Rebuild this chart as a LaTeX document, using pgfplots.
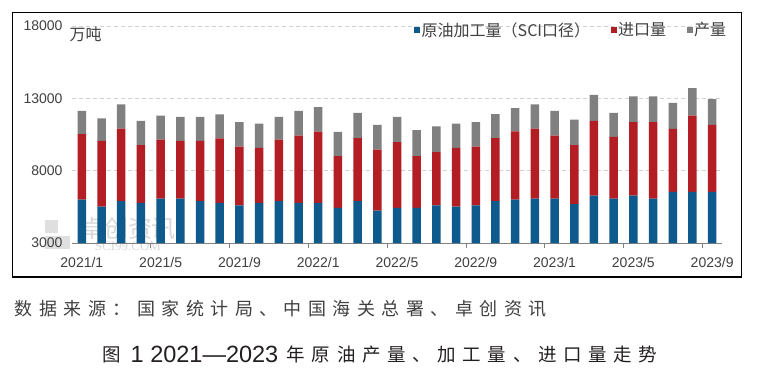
\documentclass[border=0pt]{standalone}
\usepackage{fontspec}
\setmainfont{Liberation Sans}
\newfontfamily\cjk{Noto Sans CJK SC}
\newfontfamily\cjkls{Noto Sans CJK SC}[LetterSpace=36]
\newfontfamily\serifwm{Liberation Serif}
\usepackage{pgfplots}
\usepackage{pgfplotstable}
\pgfplotsset{compat=1.18}
\definecolor{cblue}{RGB}{14,90,140}
\definecolor{cred}{RGB}{178,30,36}
\definecolor{cgrey}{RGB}{128,128,128}
\definecolor{txt}{RGB}{64,64,64}
\definecolor{gridc}{RGB}{210,210,210}
\definecolor{ttl}{RGB}{35,31,32}

\pgfplotstableread{
x proc imp prod
0 5990 4530 1610
1 5510 4550 1560
2 5900 5010 1680
3 5780 3980 1680
4 6060 4090 1660
5 6060 4000 1660
6 5900 4160 1660
7 5780 4460 1660
8 5600 4070 1680
9 5780 3800 1680
10 5900 4250 1560
11 5780 4650 1700
12 5780 4920 1700
13 5420 3590 1680
14 5900 4350 1750
15 5230 4230 1700
16 5420 4550 1750
17 5420 3590 1790
18 5600 3680 1790
19 5510 4070 1680
20 5600 4070 1680
21 5900 4350 1660
22 5990 4720 1610
23 6060 4850 1680
24 6060 4370 1700
25 5690 4070 1770
26 6270 5180 1790
27 6060 4280 1660
28 6270 5080 1790
29 6060 5290 1790
30 6540 4350 1790
31 6540 5270 1890
32 6540 4620 1790
}\datatable

\begin{document}
\begin{tikzpicture}
\path[use as bounding box] (0pt,0pt) rectangle (764pt,-391pt);
\draw[black, line width=1.3pt, fill=white] (12.5pt,-12.5pt) rectangle (741.5pt,-277pt);
% watermark
\fill[gray!25] (45pt,-220pt) rectangle (58pt,-233pt);
\fill[gray!25] (45pt,-236pt) rectangle (70pt,-249pt);
\node[anchor=center, text=gray!30, font=\cjk\fontsize{24}{24}\selectfont] at (128pt,-229pt) {卓创资讯};
\node[anchor=center, text=gray!30, font=\serifwm\fontsize{13}{13}\selectfont] at (128pt,-246pt) {SCI99.COM};
\begin{axis}[
  at={(72pt,-243pt)}, anchor=south west,
  scale only axis, width=650pt, height=217pt,
  ybar stacked, bar width=8.5pt,
  xmin=-0.5, xmax=32.5, ymin=3000, ymax=18000,
  axis x line*=bottom, axis y line*=left,
  x axis line style={gray, line width=0.6pt},
  y axis line style={draw=none},
  ytick={3000,8000,13000,18000},
  ymajorgrids, grid style={gridc, dashed, dash pattern=on 4pt off 3pt, line width=0.6pt},
  ytick style={draw=none},
  major tick length=0pt,
  yticklabel style={font=\fontsize{14}{14}\selectfont, text=txt, xshift=-6pt},
  scaled y ticks=false,
  y tick label style={/pgf/number format/.cd, set thousands separator={}, assume math mode=true},
  xtick={0,4,...,32},
  xticklabels={2021/1,2021/5,2021/9,2022/1,2022/5,2022/9,2023/1,2023/5,2023/9},
  xticklabel style={font=\fontsize{14}{14}\selectfont, text=txt, yshift=-11pt},
  xtick style={draw=none},
  extra x ticks={3.5,7.5,11.5,15.5,19.5,23.5,27.5,31.5},
  extra x tick labels={},
  extra x tick style={tick align=outside, major tick length=5pt, xtick style={draw=gray, line width=0.6pt}, grid=none},
  legend columns=3,
  legend style={draw=none, fill=none, at={(1.009,0.982)}, anchor=east, inner sep=0pt,
    font=\cjk\fontsize{16}{18}\selectfont, text=txt,
    nodes={inner sep=1.5pt, anchor=west},
    /tikz/every even column/.append style={column sep=19pt}},
  legend image code/.code={\fill[#1] (0pt,-3pt) rectangle (6pt,3pt);},
  clip=true,
]
\addplot[fill=cblue, draw=none] table[x=x, y=proc] {\datatable};
\addplot[fill=cred, draw=none] table[x=x, y=imp] {\datatable};
\addplot[fill=cgrey, draw=none] table[x=x, y=prod] {\datatable};
\legend{原油加工量（SCI口径）, 进口量, 产量}
\end{axis}
\node[anchor=west, text=txt, font=\cjk\fontsize{16}{16}\selectfont] at (66pt,-34pt) {万吨};
% source line
\node[anchor=base west, text=black!75, font=\cjkls\fontsize{18}{18}\selectfont, inner sep=0pt] at (14.5pt,-315.5pt) {数据来源：国家统计局、中国海关总署、卓创资讯};
% figure title
\node[anchor=base west, text=ttl, font=\cjk\fontsize{18.5}{18.5}\selectfont, inner sep=0pt] at (102.5pt,-361pt) {图};
\node[anchor=base west, text=ttl, font=\fontsize{23.5}{23.5}\selectfont, inner sep=0pt] at (130.5pt,-362.5pt) {1 2021—2023};
\node[anchor=base west, text=ttl, font=\cjkls\fontsize{18.5}{18.5}\selectfont, inner sep=0pt] at (286.5pt,-361pt) {年原油产量、加工量、进口量走势};
\end{tikzpicture}
\end{document}
